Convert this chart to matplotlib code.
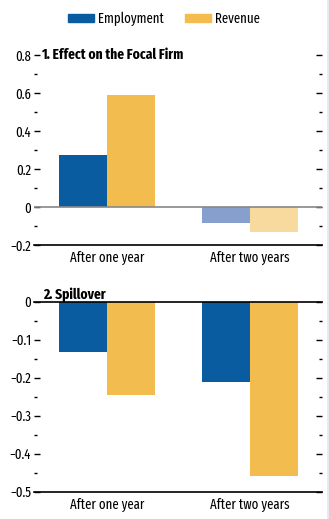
import numpy as np
import matplotlib.pyplot as plt
from matplotlib.patches import Patch
from matplotlib.ticker import MultipleLocator

plt.rcParams['font.family'] = ['Fira Sans Extra Condensed', 'DejaVu Sans']
plt.rcParams['font.size'] = 10

# data
categories = ["After one year", "After two years"]
focal_emp = [0.275, -0.086]
focal_rev = [0.59, -0.13]
spill_emp = [-0.132, -0.211]
spill_rev = [-0.245, -0.459]

blue = "#0A5CA0"
gold = "#F2BC4E"
blue_light = "#879FCC"
gold_light = "#F8DA9F"

W, H = 329, 519
fig = plt.figure(figsize=(W / 100, H / 100), dpi=100)

def box(x0, x1, ytop, ybot):
    return [x0 / W, 1 - ybot / H, (x1 - x0) / W, (ybot - ytop) / H]

ax1 = fig.add_axes(box(34, 322, 55, 245))
ax2 = fig.add_axes(box(34, 322, 301.7, 491.7))

x = np.arange(len(categories))
bw = 1 / 3

# top panel: second year is shown faded
ax1.bar(x - bw / 2, focal_emp, bw, color=[blue, blue_light])
ax1.bar(x + bw / 2, focal_rev, bw, color=[gold, gold_light])
ax1.axhline(0, color="#888888", lw=1.2, zorder=3)
ax1.set_ylim(-0.2, 0.8)
ax1.yaxis.set_major_locator(MultipleLocator(0.2))
ax1.yaxis.set_minor_locator(MultipleLocator(0.1))

ax2.bar(x - bw / 2, spill_emp, bw, color=blue)
ax2.bar(x + bw / 2, spill_rev, bw, color=gold)
ax2.set_ylim(-0.5, 0)
ax2.yaxis.set_major_locator(MultipleLocator(0.1))
ax2.yaxis.set_minor_locator(MultipleLocator(0.05))

for ax in (ax1, ax2):
    ax.set_xlim(-0.507, 1.5)
    ax.set_xticks(x)
    ax.set_xticklabels(categories)
    ax.tick_params(axis="x", length=0, pad=4)
    ax.tick_params(axis="y", which="major", direction="in", length=4, width=1,
                   left=True, right=True, pad=2)
    ax.tick_params(axis="y", which="minor", direction="in", length=2.2, width=1,
                   left=True, right=True)
    for s in ("left", "right", "top"):
        ax.spines[s].set_visible(False)
    ax.spines["bottom"].set_color("black")
    ax.spines["bottom"].set_linewidth(1.2)
    ax.yaxis.set_major_formatter(lambda v, p: ("%g" % round(v, 2)).replace("-", "\u2212"))

ax2.spines["top"].set_visible(True)
ax2.spines["top"].set_linewidth(1.2)

ax1.text(7 / 288, 0.8, "1. Effect on the Focal Firm", transform=ax1.get_yaxis_transform(),
         ha="left", va="center", fontweight="bold", fontsize=10.5)
ax2.text(9 / 288, 1.0, "2. Spillover", transform=ax2.transAxes,
         ha="left", va="bottom", fontweight="bold", fontsize=10.5)

handles = [Patch(color=blue, label="Employment"), Patch(color=gold, label="Revenue")]
fig.legend(handles=handles, loc="center", bbox_to_anchor=(164 / W, 1 - 19 / H), ncol=2,
           frameon=False, handlelength=1.9, handleheight=0.5, handletextpad=0.3,
           columnspacing=1.5, fontsize=10)

# thin border on the right edge
fig.add_artist(plt.Line2D([1 - 1.5 / W, 1 - 1.5 / W], [0, 1], color="#E3E9F1", lw=2,
                          transform=fig.transFigure))

fig.savefig("out.png", dpi=100)
